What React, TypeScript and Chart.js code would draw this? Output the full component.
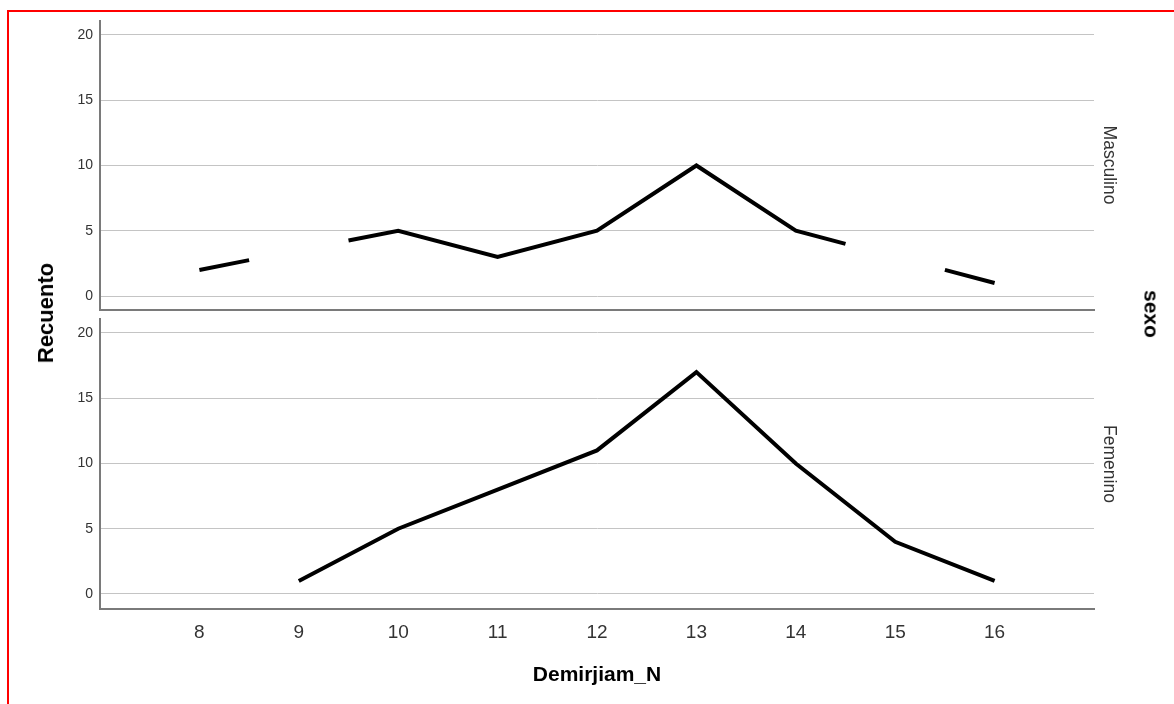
import React, { useEffect, useRef } from "react";
import { Chart, registerables } from "chart.js";

Chart.register(...registerables);

// Demirjiam_N categories and counts per sex (null = no cases in that category)
const categories: number[] = [8, 9, 10, 11, 12, 13, 14, 15, 16];
const masculino: (number | null)[] = [2, null, 5, 3, 5, 10, 5, null, 1];
const femenino: (number | null)[] = [null, 1, 5, 8, 11, 17, 10, 4, 1];
const countTicks: number[] = [0, 5, 10, 15, 20];
const panelNames: string[] = ["Masculino", "Femenino"];

const FONT = "'Liberation Sans', Arial, Helvetica, sans-serif";
const GRID = "#c4c4c4";
const AXIS = "#7a7a7a";
const TICK = "#333333";

type Pt = { x: number; y: number | null };

// Empty categories break the line: the interpolated segment is kept only
// for the half step next to each observed neighbour.
function buildPoints(values: (number | null)[]): Pt[] {
  const pts: Pt[] = [];
  categories.forEach((c, i) => {
    const v = values[i];
    if (v !== null && v !== undefined) {
      pts.push({ x: c, y: v });
      return;
    }
    const prev = values[i - 1];
    const next = values[i + 1];
    if (prev != null && next != null) {
      const mid = (prev + next) / 2;
      pts.push({ x: c - 0.5, y: (prev + mid) / 2 });
      pts.push({ x: c, y: null });
      pts.push({ x: c + 0.5, y: (mid + next) / 2 });
    } else {
      pts.push({ x: c, y: null });
    }
  });
  return pts;
}

type PanelProps = {
  values: (number | null)[];
  top: number;
  height: number;
  padTop: number;
  padBottom: number;
  xHeight: number;
  yMin: number;
  yMax: number;
  showX: boolean;
};

function Panel(p: PanelProps) {
  const ref = useRef<HTMLCanvasElement | null>(null);
  useEffect(() => {
    if (!ref.current) return;
    const chart = new Chart(ref.current, {
      type: "line",
      data: {
        datasets: [
          {
            data: buildPoints(p.values) as any,
            borderColor: "#000000",
            borderWidth: 4,
            pointRadius: 0,
            pointHoverRadius: 0,
            spanGaps: false,
            tension: 0,
            borderCapStyle: "butt",
            borderJoinStyle: "miter",
            fill: false,
          },
        ],
      },
      options: {
        animation: false,
        responsive: false,
        devicePixelRatio: 1,
        events: [],
        layout: { padding: { left: 0, top: p.padTop, right: 80, bottom: p.padBottom } },
        plugins: { legend: { display: false }, tooltip: { enabled: false } },
        scales: {
          x: {
            type: "linear",
            min: 7,
            max: 17,
            grid: { display: false },
            border: { display: true, color: AXIS, width: 2 },
            ticks: {
              display: p.showX,
              font: { family: FONT, size: 19 },
              color: TICK,
              padding: 4,
              maxRotation: 0,
            },
            afterBuildTicks: (s: any) => {
              s.ticks = categories.map((v) => ({ value: v }));
            },
            afterFit: (s: any) => {
              s.height = p.xHeight;
              s.paddingLeft = 0;
              s.paddingRight = 0;
            },
          },
          y: {
            type: "linear",
            min: p.yMin,
            max: p.yMax,
            grid: { color: GRID, lineWidth: 1, drawTicks: false },
            border: { display: true, color: AXIS, width: 2 },
            ticks: { font: { family: FONT, size: 14 }, color: TICK, padding: 7 },
            afterBuildTicks: (s: any) => {
              s.ticks = countTicks.map((v) => ({ value: v }));
            },
            afterFit: (s: any) => {
              s.width = 100;
              s.paddingTop = 0;
              s.paddingBottom = 0;
            },
          },
        },
      },
    } as any);
    return () => chart.destroy();
  }, []);
  return (
    <canvas
      ref={ref}
      width={1174}
      height={p.height}
      style={{ position: "absolute", left: 0, top: p.top, width: 1174, height: p.height, display: "block" }}
    />
  );
}

function Label(props: {
  text: string;
  cx: number;
  cy: number;
  size: number;
  bold?: boolean;
  rotate?: number;
  color?: string;
}) {
  return (
    <div
      style={{
        position: "absolute",
        left: props.cx,
        top: props.cy,
        transform: `translate(-50%, -50%) rotate(${props.rotate || 0}deg)`,
        fontFamily: FONT,
        fontSize: props.size,
        fontWeight: props.bold ? "bold" : "normal",
        lineHeight: 1,
        whiteSpace: "nowrap",
        color: props.color || "#000",
      }}
    >
      {props.text}
    </div>
  );
}

export default function App() {
  return (
    <div
      style={{
        position: "fixed",
        left: 0,
        top: 0,
        width: 1174,
        height: 704,
        overflow: "hidden",
        background: "#fff",
      }}
    >
      <div
        style={{
          position: "absolute",
          left: 7,
          top: 10,
          width: 1300,
          height: 800,
          borderLeft: "2px solid #ff0000",
          borderTop: "2px solid #ff0000",
        }}
      />
      <Panel values={masculino} top={0} height={312} padTop={21} padBottom={2} xHeight={0} yMin={-1.07} yMax={21.07} showX={false} />
      <Panel values={femenino} top={311} height={393} padTop={8} padBottom={0} xHeight={95} yMin={-1.15} yMax={21.07} showX={true} />
      <Label text="Recuento" cx={45.5} cy={313} size={22} bold rotate={-90} />
      <Label text="sexo" cx={1152} cy={314} size={21} bold rotate={90} />
      <Label text={panelNames[0]} cx={1109} cy={165} size={17.5} rotate={90} color="#333" />
      <Label text={panelNames[1]} cx={1109} cy={463.5} size={17.5} rotate={90} color="#333" />
      <Label text="Demirjiam_N" cx={597} cy={672.5} size={21} bold />
    </div>
  );
}
